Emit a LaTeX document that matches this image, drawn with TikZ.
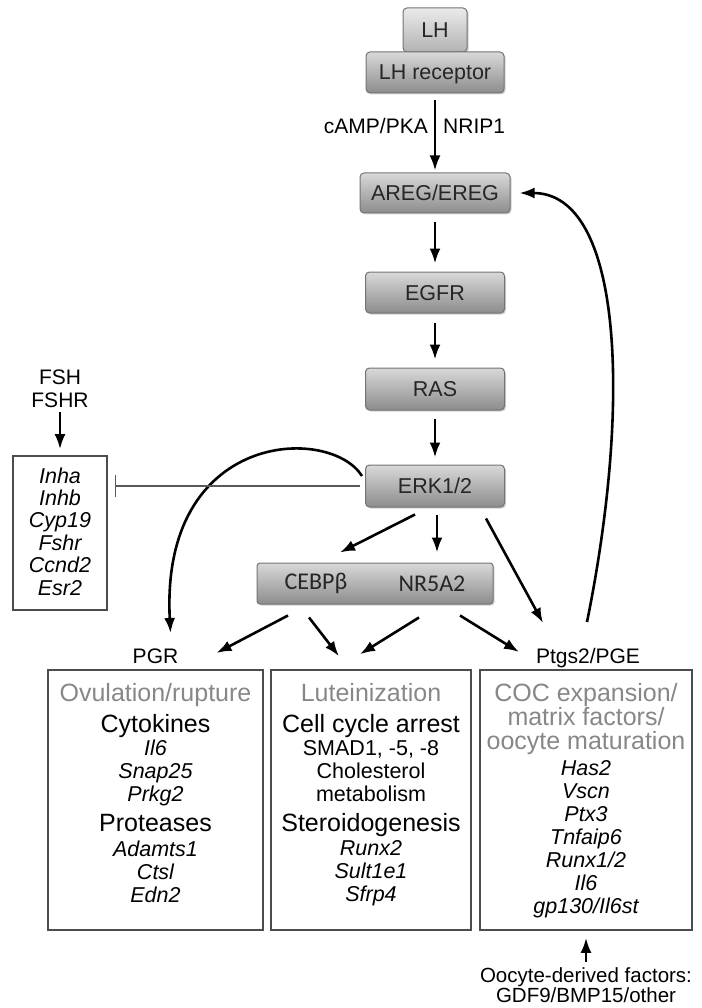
\documentclass[tikz,border=0pt]{standalone}
\usepackage{fontspec}
\setmainfont{Liberation Sans}
\newfontfamily\cebpfont{Carlito}
\usetikzlibrary{calc,arrows.meta,shadows}

\tikzset{
  stepnode/.style={draw=black!55, line width=1pt, rounded corners=4pt, top color=black!15, bottom color=black!45,
    font=\fontsize{21.5}{24}\selectfont, text=black!85, inner sep=0pt, text height=15pt, text depth=0pt,
    drop shadow={opacity=.35, shadow xshift=1.5pt, shadow yshift=-1.5pt}},
  panel/.style={draw=black!70, line width=1.6pt, inner sep=0pt},
  arr/.style={-{Latex[length=15pt,width=11pt]}, line width=2.6pt},
  lbl/.style={font=\fontsize{21}{24}\selectfont, anchor=base, inner sep=0pt},
  gene/.style={font=\fontsize{21.5}{24}\selectfont\itshape, anchor=base, inner sep=0pt},
  head/.style={font=\fontsize{25}{28}\selectfont, anchor=base, inner sep=0pt},
  title/.style={head, text=black!47},
}

\begin{document}
\begin{tikzpicture}[x=1pt,y=-1pt]
\useasboundingbox (0,0) rectangle (701,1008);

\node[stepnode, minimum width=64pt, minimum height=44pt, top color=black!8, bottom color=black!30] (lh) at (435,30) {LH};
\node[stepnode, minimum width=138pt, minimum height=41pt] (rec) at (435,72.5) {LH receptor};
\node[stepnode, minimum width=150pt, minimum height=40pt] (areg) at (435,193) {AREG/EREG};
\node[stepnode, minimum width=139pt, minimum height=41pt] (egfr) at (435,292.5) {EGFR};
\node[stepnode, minimum width=139pt, minimum height=42pt] (ras) at (435,389) {RAS};
\node[stepnode, minimum width=139pt, minimum height=42pt] (erk) at (435,486) {ERK1/2};
\node[stepnode, minimum width=236pt, minimum height=41pt, rounded corners=3pt] (cebp) at (375,583.5) {};
\node[font=\cebpfont\fontsize{24}{26}\selectfont, text=black!85] (cebpb) at (316,583.5) {CEBPβ};
\node[font=\cebpfont\fontsize{24}{26}\selectfont, text=black!85] (nr5a2) at (432,583.5) {NR5A2};

\node[lbl, anchor=base east] (camp) at (428,134) {cAMP/PKA};
\node[lbl, anchor=base west] (nrip) at (443,134) {NRIP1};

\node[lbl] (fsh) at (60,384) {FSH};
\node[lbl] (fshr) at (60,407) {FSHR};
\node[panel, minimum width=94pt, minimum height=154pt] (genes) at (60,533) {};
\node[gene] (inha) at (60,483) {Inha};
\node[gene] (inhb) at (60,505) {Inhb};
\node[gene] (cyp) at (60,527) {Cyp19};
\node[gene] (fshrg) at (60,550) {Fshr};
\node[gene] (ccnd) at (60,572) {Ccnd2};
\node[gene] (esr) at (60,595) {Esr2};

\node[lbl] (pgr) at (155.5,663) {PGR};
\node[lbl] (ptgs) at (588,663) {Ptgs2/PGE};

\node[panel, minimum width=215pt, minimum height=260pt] (ovu) at (155.5,800) {};
\node[title] (ovut) at (155.5,701) {Ovulation/rupture};
\node[head] (cyto) at (155.5,732) {Cytokines};
\node[gene] (ilsix) at (155.5,755) {Il6};
\node[gene] (snap) at (155.5,778) {Snap25};
\node[gene] (prkg) at (155.5,801) {Prkg2};
\node[head] (prot) at (155.5,831) {Proteases};
\node[gene] (adam) at (155.5,856) {Adamts1};
\node[gene] (ctsl) at (155.5,879) {Ctsl};
\node[gene] (edn) at (155.5,902) {Edn2};

\node[panel, minimum width=200pt, minimum height=260pt] (lut) at (371,800) {};
\node[title] (lutt) at (371,701) {Luteinization};
\node[head] (cell) at (371,732) {Cell cycle arrest};
\node[lbl, font=\fontsize{21.5}{24}\selectfont] (smad) at (371,755) {SMAD1, -5, -8};
\node[lbl, font=\fontsize{21.5}{24}\selectfont] (chol) at (371,778) {Cholesterol};
\node[lbl, font=\fontsize{21.5}{24}\selectfont] (meta) at (371,801) {metabolism};
\node[head] (ster) at (371,831) {Steroidogenesis};
\node[gene] (runx) at (371,855) {Runx2};
\node[gene] (sult) at (371,878) {Sult1e1};
\node[gene] (sfrp) at (371,901) {Sfrp4};

\node[panel, minimum width=212pt, minimum height=260pt] (coc) at (586,800) {};
\node[title] (coct) at (586,701) {COC expansion/};
\node[title] (mat) at (586,725) {matrix factors/};
\node[title] (ooct) at (586,749) {oocyte maturation};
\node[gene] (has) at (586,775) {Has2};
\node[gene] (vscn) at (586,798) {Vscn};
\node[gene] (ptx) at (586,821) {Ptx3};
\node[gene] (tnf) at (586,844) {Tnfaip6};
\node[gene] (runxa) at (586,867) {Runx1/2};
\node[gene] (ilsixb) at (586,890) {Il6};
\node[gene] (gp) at (586,913) {gp130/Il6st};

\node[lbl, font=\fontsize{20.5}{23}\selectfont] (ooca) at (586,982) {Oocyte-derived factors:};
\node[lbl, font=\fontsize{20.5}{23}\selectfont] (oocb) at (586,1002) {GDF9/BMP15/other};

\draw[arr, shorten <=7pt, shorten >=2pt] (rec) -- (areg);
\draw[arr, shorten <=9pt, shorten >=8pt] (areg) -- (egfr);
\draw[arr, shorten <=9pt, shorten >=8pt] (egfr) -- (ras);
\draw[arr, shorten <=8pt, shorten >=7pt] (ras) -- (erk);
\draw[arr] ($(erk.south)+(-20,7)$) -- ($(cebp.north)+(-35,-10)$);
\draw[arr] ($(erk.south)+(2,7)$) -- ($(cebp.north)+(62,-10)$);
\draw[arr] ($(erk.south east)+(-19,11)$) -- ($(ptgs.base)+(-45,-40)$);
\draw[arr] ($(cebp.south)+(-87,11)$) -- ($(pgr.base)+(61,-10)$);
\draw[arr] ($(cebp.south)+(-66,13)$) -- ($(lut.north)+(-32,-13)$);
\draw[arr] ($(cebp.south)+(44,13)$) -- ($(lut.north)+(-11,-15)$);
\draw[arr] ($(cebp.south)+(85,11)$) -- ($(ptgs.base)+(-69,-11)$);
\draw[arr] ($(erk.west)+(-3,-10)$) .. controls (330,425) and (160,430) .. ($(pgr.base)+(15,-30)$);
\draw[arr] ($(ptgs.base)+(-1,-41)$) .. controls (632,400) and (622,193) .. ($(areg.east)+(9,0)$);
\draw[black!65, line width=1.6pt, -{Bar[width=22pt]}] ($(erk.west)+(-5,0)$) -- ($(genes.east |- erk.west)+(7,0)$);
\draw[arr] ($(fshr.base)+(0,5)$) -- ($(genes.north)+(0,-6)$);
\draw[arr] ($(ooca.base)+(0,-20)$) -- ($(coc.south)+(0,7)$);
\end{tikzpicture}
\end{document}
